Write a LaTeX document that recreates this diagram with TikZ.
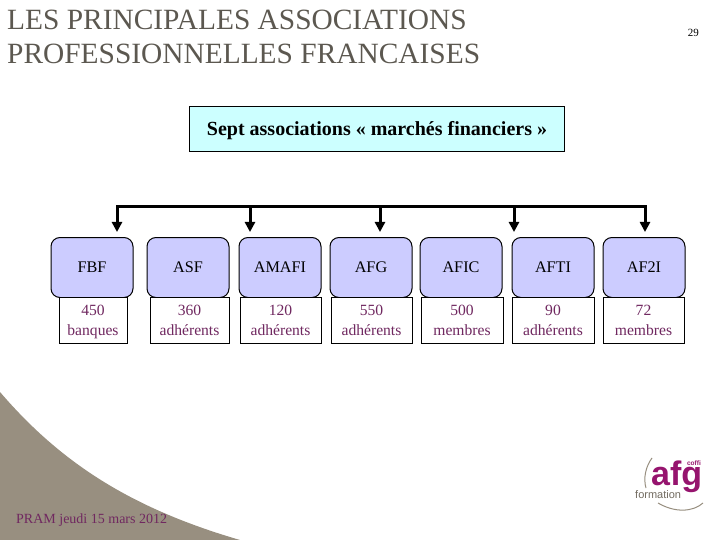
\documentclass[tikz,border=0pt]{standalone}
\usepackage{fontspec}
\setmainfont{Liberation Serif}
\newfontfamily\logofont{Liberation Sans}
\usetikzlibrary{arrows.meta}
\definecolor{titlegray}{RGB}{92,88,80}
\definecolor{wine}{RGB}{112,40,96}
\definecolor{taupe}{RGB}{152,143,128}
\definecolor{assoc}{RGB}{204,204,255}
\definecolor{pale}{RGB}{204,255,255}
\definecolor{logopurple}{RGB}{150,20,110}
\newcommand{\cntlines}[2]{\raisebox{-5.3pt}[0pt][0pt]{#1}\\\raisebox{-5.3pt}[0pt][0pt]{#2}}
\tikzset{
  x=1pt,y=-1pt,
  headbox/.style={draw=black,line width=1pt,fill=assoc,rounded corners=9pt,minimum width=82pt,minimum height=60pt,inner sep=0pt,anchor=north,font=\fontsize{16.2}{16.2}\selectfont},
  countbox/.style={draw=black,line width=0.7pt,fill=white,minimum height=46pt,inner sep=0pt,anchor=north,align=center,text=wine,font=\fontsize{15.6}{20.6}\selectfont},
  bus/.style={line width=3pt,line cap=rect},
  feed/.style={line width=3pt,-{Triangle[length=10pt,width=10pt]}},
  titletext/.style={anchor=north west,inner sep=0pt,align=left,text=titlegray,font=\fontsize{29.4}{33.5}\selectfont}
}
\begin{document}
\begin{tikzpicture}
\useasboundingbox (0,0) rectangle (720,540);
\fill[white] (0,0) rectangle (720,540);
% background swoosh
\fill[taupe] (0,392) .. controls (60,462) and (130,508) .. (240,540) -- (0,540) -- cycle;
% title
\node[titletext] (title) at (7,10) {LES PRINCIPALES ASSOCIATIONS\\PROFESSIONNELLES FRANCAISES};
\node[anchor=east,inner sep=0pt,font=\fontsize{11}{11}\selectfont] (page) at (699,33) {29};
% top box
\node[draw=black,line width=0.8pt,fill=pale,minimum width=375pt,minimum height=45pt,inner sep=0pt,text height=18pt,text depth=3.6pt,font=\bfseries\fontsize{20}{20}\selectfont] (sept) at (377,128.5) {Sept associations « marchés financiers »};
% association heads
\node[headbox] (fbf) at (92,237) {FBF};
\node[headbox] (asf) at (188,237) {ASF};
\node[headbox] (amafi) at (280,237) {AMAFI};
\node[headbox] (afg) at (371,237) {AFG};
\node[headbox] (afic) at (461,237) {AFIC};
\node[headbox] (afti) at (553,237) {AFTI};
\node[headbox] (aftwoi) at (644,237) {AF2I};
% counts
\node[countbox,minimum width=68pt] (c1) at (93,297) {\cntlines{450}{banques}};
\node[countbox,minimum width=79pt] (c2) at (189.5,297) {\cntlines{360}{adhérents}};
\node[countbox,minimum width=81pt] (c3) at (280.5,297) {\cntlines{120}{adhérents}};
\node[countbox,minimum width=81pt] (c4) at (371.5,297) {\cntlines{550}{adhérents}};
\node[countbox,minimum width=82pt] (c5) at (462,297) {\cntlines{500}{membres}};
\node[countbox,minimum width=82pt] (c6) at (553,297) {\cntlines{90}{adhérents}};
\node[countbox,minimum width=81pt] (c7) at (643.5,297) {\cntlines{72}{membres}};
% bus and arrows
\coordinate (b1) at (117,207);
\coordinate (b2) at (250,207);
\coordinate (b3) at (380,207);
\coordinate (b4) at (514,207);
\coordinate (b5) at (645,207);
\coordinate (t1) at (117,232);
\coordinate (t2) at (250,232);
\coordinate (t3) at (380,232);
\coordinate (t4) at (514,232);
\coordinate (t5) at (645,232);
\draw[bus] (b1) -- (b5);
\foreach \i in {1,...,5} \draw[feed] (b\i) -- (t\i);
% footer
\node[anchor=west,inner sep=0pt,text=wine,font=\fontsize{14}{14}\selectfont] (foot) at (16,520) {PRAM jeudi 15 mars 2012};
% logo
\draw[taupe,line width=1pt] (652,458) .. controls (646,466) and (643,478) .. (646,488);
\draw[taupe,line width=1pt] (658,503) .. controls (675,513) and (693,512) .. (703,503);
\node[anchor=base west,inner sep=0pt,text=logopurple,font=\logofont\bfseries\fontsize{34}{34}\selectfont] (afglogo) at (651,485) {afg};
\node[anchor=base east,inner sep=0pt,text=logopurple,font=\logofont\bfseries\fontsize{6.5}{6.5}\selectfont] (coffi) at (701,465) {coffi};
\node[anchor=base west,inner sep=0pt,text=taupe!75!black,font=\logofont\fontsize{11}{11}\selectfont] (formation) at (635,498) {formation};
\end{tikzpicture}
\end{document}
